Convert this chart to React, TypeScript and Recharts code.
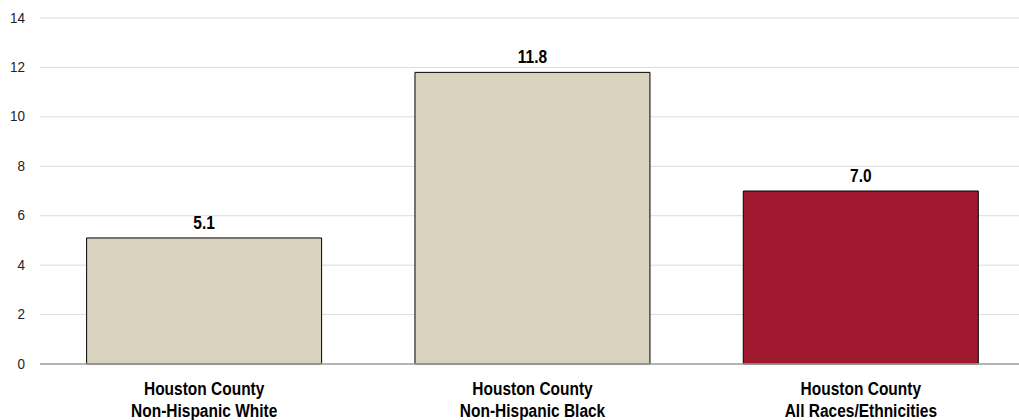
import React from "react";
import { BarChart, Bar, XAxis, YAxis, CartesianGrid, Cell, LabelList } from "recharts";

// ==================== Data ====================

const groupLines: string[][] = [
    ["Houston County", "Non-Hispanic White"],
    ["Houston County", "Non-Hispanic Black"],
    ["Houston County", "All Races/Ethnicities"],
];
const rates: number[] = [5.1, 11.8, 7.0];
const barColors: string[] = ["#d8d2bf", "#d8d2bf", "#a1192f"];
const yTicks: number[] = [0, 2, 4, 6, 8, 10, 12, 14];

const data = rates.map((value, i) => ({ key: `g${i}`, value }));

const FONT = "'Liberation Sans', Arial, sans-serif";
const STRETCH = 1.18; // text in this chart is slightly tall/narrow

// two-line bold category label under each bar
const GroupTick = (props: any) => {
    const { x, y, payload } = props;
    const lines = groupLines[payload.index] ?? [];
    return (
        <g>
            {lines.map((line, i) => (
                <text
                    key={i}
                    transform={`translate(${x},${y + 23 + i * 22}) scale(1,${STRETCH})`}
                    textAnchor="middle"
                    fontFamily={FONT}
                    fontSize={15.5}
                    fontWeight="bold"
                    fill="#000"
                >
                    {line}
                </text>
            ))}
        </g>
    );
};

const ValueTick = (props: any) => {
    const { x, y, payload } = props;
    return (
        <text
            transform={`translate(${x},${y + 4.5}) scale(1,1.1)`}
            textAnchor="end"
            fontFamily={FONT}
            fontSize={13.5}
            fill="#222"
        >
            {payload.value}
        </text>
    );
};

const BarValue = (props: any) => {
    const { x, y, width, value } = props;
    return (
        <text
            transform={`translate(${x + width / 2},${y - 9}) scale(1,${STRETCH})`}
            textAnchor="middle"
            fontFamily={FONT}
            fontSize={15.5}
            fontWeight="bold"
            fill="#000"
        >
            {Number(value).toFixed(1)}
        </text>
    );
};

// ==================== Component ====================

const App: React.FC = () => {
    return (
        <div style={{ position: "absolute", left: 0, top: 0, width: 1019, height: 420, background: "#fff", overflow: "hidden" }}>
            <BarChart
                width={1019}
                height={420}
                data={data}
                margin={{ top: 18, right: -6, bottom: 0, left: 0 }}
                barCategoryGap="14.2%"
            >
                <CartesianGrid vertical={false} stroke="#dcdcdc" strokeWidth={1} />
                <XAxis
                    dataKey="key"
                    height={56}
                    tickLine={false}
                    axisLine={{ stroke: "#a0a0a0", strokeWidth: 1.5 }}
                    tick={<GroupTick />}
                    interval={0}
                />
                <YAxis
                    width={40}
                    domain={[0, 14]}
                    ticks={yTicks}
                    axisLine={false}
                    tickLine={false}
                    tickSize={0}
                    tickMargin={15}
                    tick={<ValueTick />}
                />
                <Bar dataKey="value" stroke="#000" strokeWidth={1} isAnimationActive={false}>
                    {data.map((entry, index) => (
                        <Cell key={`cell-${index}`} fill={barColors[index]} />
                    ))}
                    <LabelList dataKey="value" content={<BarValue />} />
                </Bar>
            </BarChart>
        </div>
    );
};

export default App;
